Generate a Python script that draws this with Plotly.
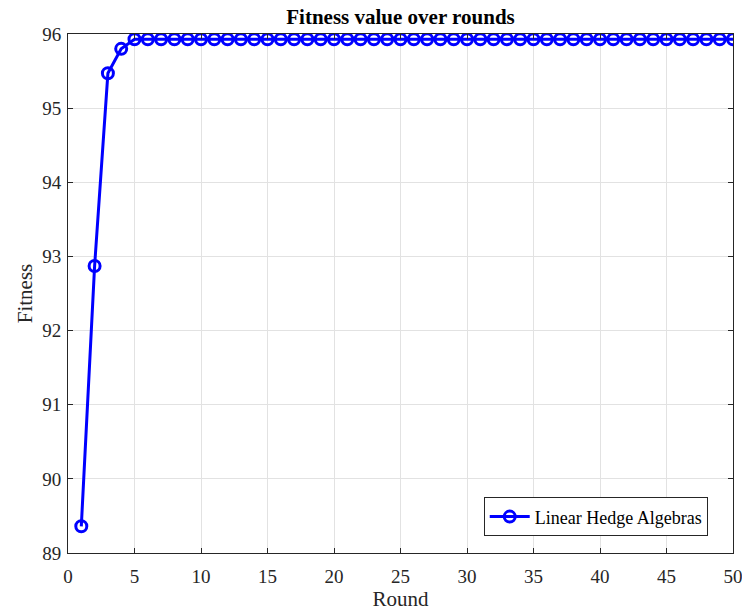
import plotly.graph_objects as go

rounds = list(range(1, 51))
fitness = [89.36, 92.87, 95.47, 95.80] + [95.93] * 46
series_name = "Linear Hedge Algebras"
title_text = "Fitness value over rounds"
x_ticks = list(range(0, 51, 5))
y_ticks = list(range(89, 97))

font_family = "Liberation Serif, Times New Roman, serif"
tick_color = "#262626"

fig = go.Figure()
fig.add_trace(go.Scatter(
    x=rounds, y=fitness, mode="lines+markers", name=series_name,
    line=dict(color="#0000ff", width=3),
    marker=dict(symbol="circle-open", size=11, color="#0000ff", line=dict(width=3, color="#0000ff")),
))

axis_common = dict(
    showline=True, linecolor="#262626", linewidth=1, mirror="ticks",
    ticks="inside", ticklen=5, tickcolor="#262626",
    showgrid=True, gridcolor="#e2e2e2", gridwidth=1, zeroline=False,
    automargin=False, ticklabeloverflow="allow",
    tickfont=dict(family=font_family, size=19, color=tick_color),
)

fig.update_layout(
    width=742, height=615,
    margin=dict(l=68, r=9, t=34, b=62),
    paper_bgcolor="white", plot_bgcolor="white",
    title=dict(text="<b>" + title_text + "</b>", xref="paper", x=0.5, xanchor="center",
               yref="container", y=0.985, yanchor="top",
               font=dict(family=font_family, size=21, color="black")),
    xaxis=dict(range=[0, 50], tickvals=x_ticks, ticklabelstandoff=6,
               title=dict(text="Round", font=dict(family=font_family, size=21, color=tick_color), standoff=2),
               **axis_common),
    yaxis=dict(range=[89, 96], tickvals=y_ticks, ticklabelstandoff=2,
               title=dict(text="Fitness", font=dict(family=font_family, size=21, color=tick_color), standoff=3),
               **axis_common),
    legend=dict(x=0.962, y=0.032, xanchor="right", yanchor="bottom",
                bordercolor="#262626", borderwidth=1, bgcolor="white",
                tracegroupgap=0, itemwidth=40,
                font=dict(family=font_family, size=18, color="black")),
    showlegend=True,
)

fig.write_html("out.html", config={"displayModeBar": False},
               post_script="document.body.style.margin='0';")
